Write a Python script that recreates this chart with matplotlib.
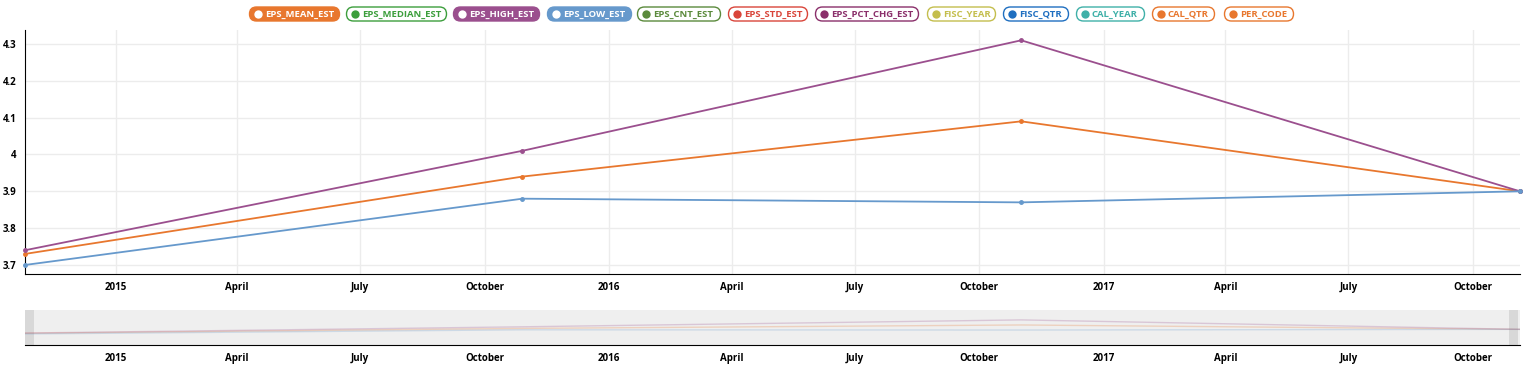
import numpy as np
import pandas as pd
import matplotlib
matplotlib.use("Agg")
import matplotlib.pyplot as plt
import matplotlib.dates as mdates
from matplotlib.patches import Rectangle, FancyBboxPatch

plt.rcParams['font.family'] = ['Open Sans', 'DejaVu Sans']

# data
dates = pd.to_datetime(['2014-10-26', '2015-10-29', '2016-11-01', '2017-11-05'])
eps_mean = [3.73, 3.94, 4.09, 3.90]
eps_high = [3.74, 4.01, 4.31, 3.90]
eps_low = [3.70, 3.88, 3.87, 3.90]

legend_names = ['EPS_MEAN_EST', 'EPS_MEDIAN_EST', 'EPS_HIGH_EST', 'EPS_LOW_EST',
                'EPS_CNT_EST', 'EPS_STD_EST', 'EPS_PCT_CHG_EST', 'FISC_YEAR',
                'FISC_QTR', 'CAL_YEAR', 'CAL_QTR', 'PER_CODE']
legend_colors = ['#e8772e', '#3c9e3c', '#9b4f8e', '#6699cc', '#5b8a3c', '#d9453a',
                 '#8a2f6a', '#c4be4d', '#1f6fc0', '#3fb0a8', '#e8772e', '#e8772e']
legend_on = [True, False, True, True, False, False, False, False, False, False, False, False]
legend_x = [249, 346, 453, 547, 637, 728, 815, 927, 1003, 1076, 1152, 1224]
legend_w = [91, 101, 87, 85, 84, 80, 104, 69, 66, 69, 63, 70]

c_mean, c_high, c_low = '#e8772e', '#9b4f8e', '#6699cc'

W, H = 1526, 368
fig = plt.figure(figsize=(W / 100, H / 100), dpi=100)

def fx(px):
    return px / W

def fy(py):
    return 1 - py / H

ax = fig.add_axes([fx(25), fy(274), fx(1520 - 25), (274 - 30) / H])
nav = fig.add_axes([fx(25), fy(345), fx(1520 - 25), (345 - 310) / H])

xmin, xmax = dates[0], dates[-1]

def label_fmt(x, pos):
    d = mdates.num2date(x)
    return d.strftime('%Y') if d.month == 1 else d.strftime('%B')

def style_time_axis(a, pad):
    a.xaxis.set_major_locator(mdates.MonthLocator(bymonth=[1, 4, 7, 10]))
    a.xaxis.set_major_formatter(plt.FuncFormatter(label_fmt))
    a.set_xlim(xmin, xmax)
    a.tick_params(axis='x', length=0, pad=pad, labelsize=7)
    for lab in a.get_xticklabels():
        lab.set_fontweight('bold')
    for s in ['top', 'right']:
        a.spines[s].set_visible(False)

# main chart
for vals, c in [(eps_mean, c_mean), (eps_high, c_high), (eps_low, c_low)]:
    ax.plot(dates, vals, color=c, lw=1.3, marker='o', ms=2.5, zorder=3, clip_on=False)
style_time_axis(ax, 6)
ax.set_ylim(3.6755, 4.338)
ax.set_yticks([3.7, 3.8, 3.9, 4.0, 4.1, 4.2, 4.3])
ax.set_yticklabels(['3.7', '3.8', '3.9', '4', '4.1', '4.2', '4.3'], fontweight='bold')
ax.tick_params(axis='y', length=0, pad=6, labelsize=7)
ax.grid(True, color='#ececec', lw=1)
ax.set_axisbelow(True)

# navigator
nav.set_facecolor('#efefef')
for vals, c in [(eps_mean, c_mean), (eps_high, c_high), (eps_low, c_low)]:
    nav.plot(dates, vals, color=c, lw=1, alpha=0.25)
style_time_axis(nav, 6)
nav.set_ylim(3.22, 4.74)
nav.set_yticks([])
nav.spines['left'].set_visible(False)
nav.add_patch(Rectangle((0, 0), 9 / 1495, 1, transform=nav.transAxes, color='#d8d8d8', lw=0))
nav.add_patch(Rectangle((1 - 11 / 1495, 0), 9 / 1495, 1, transform=nav.transAxes, color='#d8d8d8', lw=0))

# legend pills (pixel-coordinate overlay)
lg = fig.add_axes([0, 0, 1, 1], zorder=5)
lg.set_xlim(0, W)
lg.set_ylim(H, 0)
lg.axis('off')
lg.patch.set_alpha(0)
for name, col, on, x0, w in zip(legend_names, legend_colors, legend_on, legend_x, legend_w):
    lg.add_patch(FancyBboxPatch((x0 + 0.5, 7), w - 1, 14,
                                boxstyle='round,pad=0,rounding_size=7',
                                facecolor=col if on else 'white', edgecolor=col, lw=1))
    lg.plot([x0 + 9], [14], marker='o', ms=6, color='white' if on else col, mew=0)
    lg.text(x0 + 16, 14.5, name, color='white' if on else col,
            fontsize=6.8, fontweight='bold', va='center', ha='left')

fig.savefig('out.png', dpi=100)
